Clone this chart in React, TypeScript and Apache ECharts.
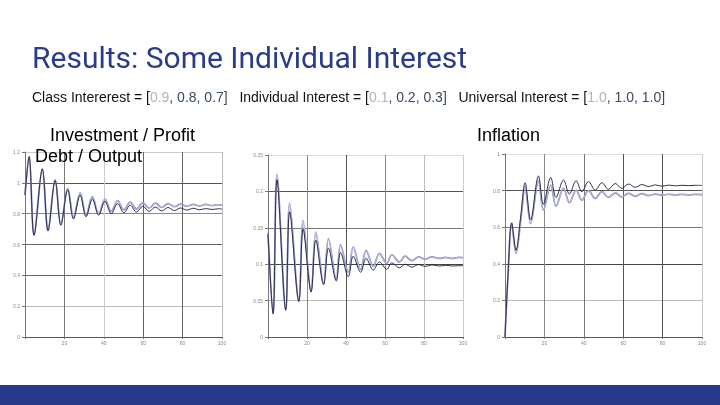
import * as echarts from "echarts"
import { useEffect, useRef } from "react"

// Left chart: Investment / Profit (debt / output label overlaps it)
const INV_T = [0, 2.1, 4.6, 8.8, 11.7, 15.3, 18.2, 21.7, 24.6, 28, 31, 34.2, 37.4, 40.6, 43.8, 47, 50.2, 53.4, 56.6, 59.8, 63, 66.2, 69.4, 72.6, 75.8, 79, 82.2, 85.4, 88.6, 91.8, 95, 98.2, 100]
const INV_LIGHT = [0.92, 1.17, 0.66, 1.09, 0.69, 1.02, 0.73, 0.965, 0.775, 0.935, 0.79, 0.91, 0.8, 0.895, 0.815, 0.885, 0.825, 0.875, 0.83, 0.87, 0.835, 0.868, 0.84, 0.865, 0.845, 0.862, 0.848, 0.86, 0.85, 0.86, 0.852, 0.858, 0.856]
const INV_DARK = [0.92, 1.17, 0.66, 1.09, 0.69, 1.015, 0.725, 0.955, 0.765, 0.92, 0.78, 0.895, 0.79, 0.88, 0.8, 0.865, 0.805, 0.855, 0.81, 0.848, 0.815, 0.843, 0.818, 0.84, 0.82, 0.837, 0.823, 0.835, 0.825, 0.833, 0.827, 0.832, 0.83]

// Middle chart
const MID_T = [0, 2.6, 4.6, 9.1, 11.1, 15.8, 18, 22.1, 24.5, 28.5, 31, 35, 37.2, 41.2, 43.7, 47.5, 50.3, 54, 57.1, 60.9, 63.5, 67.4, 70.3, 73.8, 77.2, 80.6, 84, 88, 90.9, 94.9, 97.8, 100]
const MID_LIGHT = [0.142, 0.032, 0.223, 0.037, 0.184, 0.049, 0.16, 0.062, 0.144, 0.073, 0.135, 0.079, 0.127, 0.089, 0.124, 0.093, 0.119, 0.097, 0.115, 0.101, 0.113, 0.103, 0.111, 0.105, 0.11, 0.107, 0.11, 0.108, 0.1095, 0.108, 0.1095, 0.109]
const MID_DARK = [0.142, 0.032, 0.216, 0.037, 0.172, 0.049, 0.148, 0.062, 0.133, 0.072, 0.122, 0.077, 0.116, 0.083, 0.111, 0.089, 0.108, 0.092, 0.103, 0.093, 0.102, 0.095, 0.1, 0.096, 0.0995, 0.097, 0.099, 0.0975, 0.0985, 0.0975, 0.098, 0.098]

// Right chart: Inflation
const INF_T = [0, 1.5, 3.4, 5.6, 8, 10.2, 13, 17, 19.5, 23.2, 25.9, 29.7, 32.7, 36.1, 39, 42.4, 45.8, 49.2, 52.5, 56, 59.3, 62.7, 66.1, 69.5, 72.9, 76.3, 79.7, 83.1, 86.5, 89.9, 93.3, 96.7, 100]
const INF_LIGHT = [0, 0.33, 0.62, 0.456, 0.64, 0.82, 0.62, 0.854, 0.693, 0.83, 0.715, 0.812, 0.734, 0.803, 0.748, 0.8, 0.757, 0.794, 0.763, 0.788, 0.766, 0.785, 0.77, 0.783, 0.773, 0.781, 0.775, 0.78, 0.776, 0.779, 0.777, 0.779, 0.778]
const INF_DARK = [0, 0.33, 0.624, 0.474, 0.66, 0.843, 0.64, 0.88, 0.726, 0.872, 0.763, 0.858, 0.781, 0.854, 0.794, 0.849, 0.803, 0.843, 0.807, 0.839, 0.812, 0.836, 0.818, 0.833, 0.822, 0.831, 0.824, 0.83, 0.826, 0.829, 0.827, 0.829, 0.828]

const Y_MAX = [1.2, 0.25, 1]
const Y_STEP = [0.2, 0.05, 0.2]

const SLIDE_TITLE = "Results: Some Individual Interest"
const CLASS_INTEREST = ["0.9", "0.8", "0.7"]
const INDIVIDUAL_INTEREST = ["0.1", "0.2", "0.3"]
const UNIVERSAL_INTEREST = ["1.0", "1.0", "1.0"]

const pairs = (t: number[], v: number[]) => t.map((x, i) => [x, v[i]])

const group = (label: string, vals: string[]) =>
  `{k|${label} = [}{a|${vals[0]}}{b|, ${vals[1]}, ${vals[2]}]}`

// gridline shades copied from the scanned figure (some lines print darker than others)
const X_SPLIT = [
  ["#666", "#777", "#ccc", "#666", "#666", "#bbb"],
  ["#666", "#888", "#555", "#888", "#bbb", "#ccc"],
  ["#666", "#888", "#777", "#555", "#555", "#ccc"],
]
const Y_SPLIT = [
  ["#888", "#bbb", "#666", "#666", "#888", "#555", "#ccc"],
  ["#888", "#bbb", "#444", "#777", "#555", "#ddd"],
  ["#888", "#bbb", "#444", "#777", "#555", "#ddd"],
]

export default function App() {
  const ref = useRef<HTMLDivElement>(null)

  useEffect(() => {
    if (!ref.current) return
    const chart = echarts.init(ref.current, null, { renderer: "svg" })

    const sets = [
      [INV_T, INV_LIGHT, INV_DARK],
      [MID_T, MID_LIGHT, MID_DARK],
      [INF_T, INF_LIGHT, INF_DARK],
    ]

    const tickFont = { fontSize: 5, color: "#888", fontFamily: "Liberation Sans" }

    const xAxis = [0, 1, 2].map((i) => ({
      type: "value",
      gridIndex: i,
      min: 0,
      max: 100,
      interval: 20,
      axisLine: { show: true, lineStyle: { color: "#555", width: 1 } },
      axisTick: { show: true, length: 2, lineStyle: { color: "#777" } },
      axisLabel: { ...tickFont, margin: 3, formatter: (v: number) => (v === 0 ? "" : String(v)) },
      splitLine: { show: true, lineStyle: { color: X_SPLIT[i], width: 1 } },
    }))

    const yAxis = [0, 1, 2].map((i) => ({
      type: "value",
      gridIndex: i,
      min: 0,
      max: Y_MAX[i],
      interval: Y_STEP[i],
      axisLine: { show: true, lineStyle: { color: "#777", width: 1 } },
      axisTick: { show: true, length: 3, lineStyle: { color: "#777" } },
      axisLabel: { ...tickFont, margin: 5 },
      splitLine: { show: true, lineStyle: { color: Y_SPLIT[i], width: 1 } },
    }))

    // light series is drawn as an outlined stroke (purple edge, pale core), dark series on top
    const series = sets.flatMap(([t, light, dark], i) => [
      {
        type: "line",
        xAxisIndex: i,
        yAxisIndex: i,
        data: pairs(t, light),
        smooth: 0.35,
        showSymbol: false,
        lineStyle: { color: "#7c7cba", width: 1.7 },
      },
      {
        type: "line",
        xAxisIndex: i,
        yAxisIndex: i,
        data: pairs(t, light),
        smooth: 0.35,
        showSymbol: false,
        lineStyle: { color: "#e4e4f4", width: 0.6 },
      },
      {
        type: "line",
        xAxisIndex: i,
        yAxisIndex: i,
        data: pairs(t, dark),
        smooth: 0.35,
        showSymbol: false,
        lineStyle: { color: "#1c1c3a", width: 0.9 },
      },
    ])

    const headFont = { fontSize: 18, fontFamily: "Liberation Sans, Arial", fill: "#000", verticalAlign: "middle" }

    chart.setOption({
      animation: false,
      grid: [
        { left: 25, top: 152, width: 197, height: 185 },
        { left: 268, top: 155, width: 195, height: 182 },
        { left: 505, top: 154, width: 197, height: 183 },
      ],
      xAxis,
      yAxis,
      series,
      graphic: [
        {
          type: "text",
          x: 32,
          y: 57,
          style: { text: SLIDE_TITLE, fontSize: 30, fontFamily: "Roboto", fill: "#2a3b8a", verticalAlign: "middle" },
        },
        {
          type: "text",
          x: 32,
          y: 97,
          style: {
            text: [
              group("Class Intererest", CLASS_INTEREST),
              group("Individual Interest", INDIVIDUAL_INTEREST),
              group("Universal Interest", UNIVERSAL_INTEREST),
            ].join("{k|   }"),
            verticalAlign: "middle",
            rich: {
              k: { fontSize: 14, fontFamily: "Liberation Sans, Arial", fill: "#111" },
              a: { fontSize: 14, fontFamily: "Liberation Sans, Arial", fill: "#a9b6c6" },
              b: { fontSize: 14, fontFamily: "Liberation Sans, Arial", fill: "#3a4a60" },
            },
          },
        },
        { type: "text", x: 50, y: 135, z: 10, style: { text: "Investment / Profit", ...headFont } },
        { type: "text", x: 35, y: 156, z: 10, style: { text: "Debt / Output", ...headFont } },
        { type: "text", x: 477, y: 135, z: 10, style: { text: "Inflation", ...headFont } },
        { type: "rect", shape: { x: 0, y: 385, width: 720, height: 20 }, style: { fill: "#293a8b" } },
      ],
    })

    return () => chart.dispose()
  }, [])

  return <div ref={ref} style={{ position: "fixed", left: 0, top: 0, width: 720, height: 405 }} />
}
